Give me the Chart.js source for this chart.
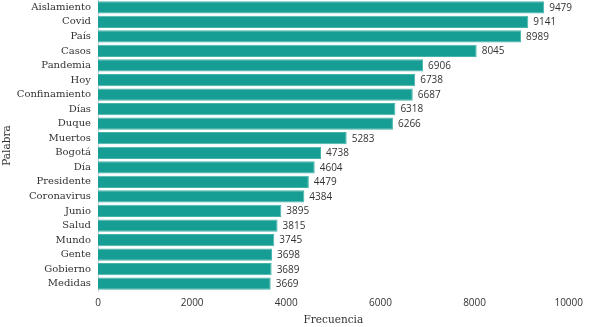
<!DOCTYPE html>
<html>
<head>
<meta charset="utf-8">
<script src="https://cdn.jsdelivr.net/npm/chart.js@4/dist/chart.umd.min.js"></script>
<style>
  html, body { margin: 0; padding: 0; background: #fff; }
  #wrap { width: 589px; height: 327px; }
</style>
</head>
<body>
<div id="wrap"><canvas id="chart"></canvas></div>
<script>
const palabras = ['Aislamiento', 'Covid', 'País', 'Casos', 'Pandemia', 'Hoy', 'Confinamiento', 'Días', 'Duque', 'Muertos',
  'Bogotá', 'Día', 'Presidente', 'Coronavirus', 'Junio', 'Salud', 'Mundo', 'Gente', 'Gobierno', 'Medidas'];
const frecuencias = [9479, 9141, 8989, 8045, 6906, 6738, 6687, 6318, 6266, 5283,
  4738, 4604, 4479, 4384, 3895, 3815, 3745, 3698, 3689, 3669];
const xTicks = [0, 2000, 4000, 6000, 8000, 10000];

const serif = "'DejaVu Serif', serif";
const sans = "'Open Sans', 'Liberation Sans', sans-serif";

// value labels at the end of each bar
const valueLabels = {
  id: 'valueLabels',
  afterDatasetsDraw(chart) {
    const ctx = chart.ctx;
    const meta = chart.getDatasetMeta(0);
    ctx.save();
    ctx.font = '10px ' + sans;
    ctx.fillStyle = '#333';
    ctx.textAlign = 'left';
    ctx.textBaseline = 'middle';
    meta.data.forEach((bar, i) => {
      ctx.fillText(frecuencias[i], bar.x + 5, bar.y + 0.5);
    });
    ctx.restore();
  }
};

new Chart(document.querySelector('#chart').getContext('2d'), {
  type: 'bar',
  data: {
    labels: palabras,
    datasets: [{
      data: frecuencias,
      backgroundColor: '#179e94',
      borderColor: '#45b5ab',
      borderWidth: 1,
      barPercentage: 0.84,
      categoryPercentage: 1
    }]
  },
  options: {
    indexAxis: 'y',
    responsive: true,
    maintainAspectRatio: false,
    animation: false,
    layout: { padding: { top: 0, right: 19, bottom: 0, left: 0 } },
    plugins: { legend: { display: false }, tooltip: { enabled: false } },
    scales: {
      x: {
        min: 0,
        max: 10000,
        afterBuildTicks: axis => { axis.ticks = xTicks.map(v => ({ value: v })); },
        afterFit: axis => { axis.height = 36; },
        grid: { display: false, drawTicks: false },
        border: { display: false },
        ticks: { color: '#333', font: { family: sans, size: 10 }, padding: 6, maxRotation: 0, callback: v => String(v) },
        title: { display: true, text: 'Frecuencia', color: '#333', font: { family: serif, size: 10.5 }, padding: { top: 3, bottom: 0 } }
      },
      y: {
        afterFit: axis => { axis.width = 98; axis.paddingTop = 0; axis.paddingBottom = 0; },
        grid: { display: false, drawTicks: false },
        border: { display: true, color: '#d0d0d0', width: 1 },
        ticks: { color: '#333', font: { family: serif, size: 10 }, padding: 7, autoSkip: false },
        title: { display: true, text: 'Palabra', color: '#333', font: { family: serif, size: 10.5 }, padding: 1 }
      }
    }
  },
  plugins: [valueLabels]
});
</script>
</body>
</html>
